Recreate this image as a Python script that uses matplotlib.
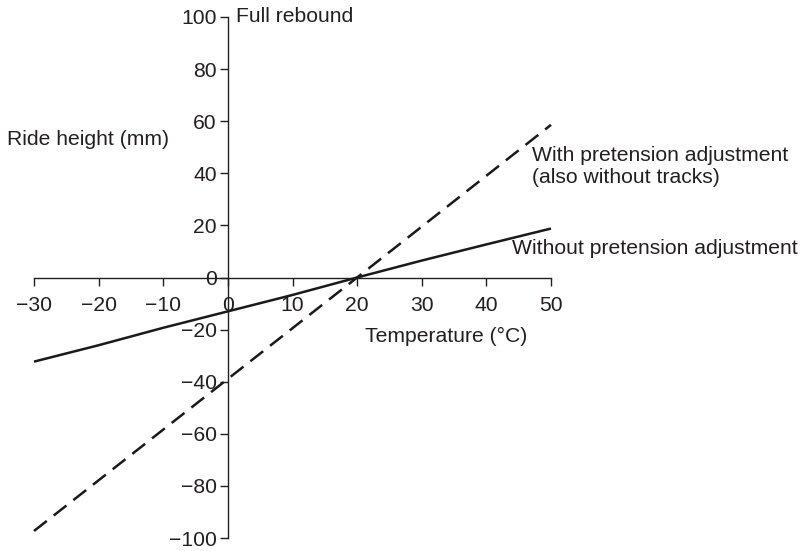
import matplotlib.pyplot as plt
import numpy as np

plt.rcParams['font.family'] = ['Liberation Sans', 'DejaVu Sans']

# data
temp = [-30, -20, -10, 0, 10, 20, 30, 40, 50]
without_adj = [-32.3, -26.0, -19.3, -13.0, -6.7, 0.0, 6.5, 12.7, 18.8]
with_adj_x = [-30, 20, 50]
with_adj = [-97.3, 0.0, 58.6]

x_ticks = np.arange(-30, 51, 10)
y_ticks = np.arange(-100, 101, 20)

txt = '#231f20'

fig = plt.figure(figsize=(8.01, 5.51), dpi=100)
ax = fig.add_axes([34 / 801, 13 / 551, 517 / 801, 521 / 551])

ax.plot(temp, without_adj, color='#1a1a1a', lw=1.8, solid_capstyle='butt', clip_on=False)
ax.plot(with_adj_x, with_adj, color='#1a1a1a', lw=1.8, dashes=(6.5, 3.5), clip_on=False)

ax.set_xlim(-30, 50)
ax.set_ylim(-100, 100)

for s in ['top', 'right']:
    ax.spines[s].set_visible(False)
ax.spines['left'].set_position(('data', 0))
ax.spines['bottom'].set_position(('data', 0))
for s in ['left', 'bottom']:
    ax.spines[s].set_linewidth(1.0)
    ax.spines[s].set_color(txt)

fs = 15.2
ax.set_xticks(x_ticks)
ax.set_yticks(y_ticks)
ax.tick_params(axis='x', direction='out', length=6, width=1.0, pad=7,
               labelsize=fs, colors=txt)
ax.tick_params(axis='y', direction='out', length=6, width=1.0, pad=2,
               labelsize=fs, colors=txt)

ax.text(1.2, 100, 'Full rebound', ha='left', va='center', fontsize=fs, color=txt)
ax.text(-34.2, 53, 'Ride height (mm)', ha='left', va='center', fontsize=fs,
        color=txt, clip_on=False)
ax.text(33.8, -22.6, 'Temperature (°C)', ha='center', va='center', fontsize=fs, color=txt)
ax.text(47.1, 42.7, 'With pretension adjustment\n(also without tracks)', ha='left',
        va='center', fontsize=fs, color=txt, linespacing=1.2, clip_on=False)
ax.text(44.0, 11.1, 'Without pretension adjustment', ha='left', va='center',
        fontsize=fs, color=txt, clip_on=False)

fig.savefig('out.png', dpi=100)
